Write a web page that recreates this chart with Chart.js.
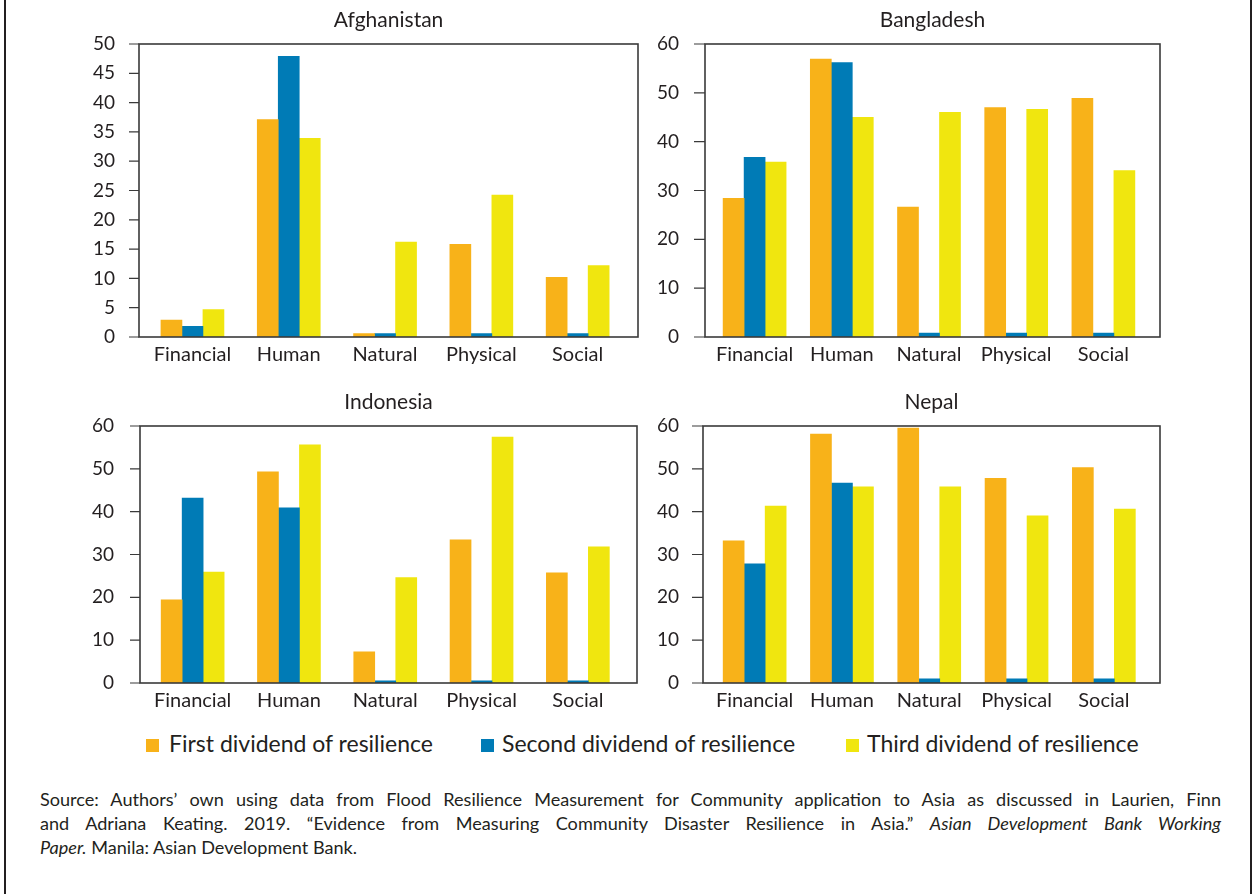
<!DOCTYPE html>
<html>
<head>
<meta charset="utf-8">
<script src="https://cdn.jsdelivr.net/npm/chart.js@4.4.1/dist/chart.umd.min.js"></script>
<style>
  html, body { margin: 0; padding: 0; background: #fff; }
  #page { position: relative; width: 1254px; height: 894px; overflow: hidden;
          font-family: Lato, "Open Sans", sans-serif; color: #231f20; background: #fff; }
  .rule { position: absolute; top: 0; bottom: 0; width: 2px; background: #231f20; }
  canvas.panel { position: absolute; }
  .swatch { position: absolute; width: 13px; height: 13px; }
  .legend-text { position: absolute; font-size: 23px; line-height: 23px; white-space: nowrap; }
  .source { position: absolute; left: 40px; width: 1181px; top: 787px; font-size: 18.1px; line-height: 24px; }
  .source div { text-align: justify; text-align-last: justify; white-space: nowrap; }
  .source div.last { text-align-last: left; }
</style>
</head>
<body>
<div id="page">
  <div class="rule" style="left:4px"></div>
  <div class="rule" style="left:1250px"></div>
  <canvas id="afghanistan" class="panel"></canvas>
  <canvas id="bangladesh" class="panel"></canvas>
  <canvas id="indonesia" class="panel"></canvas>
  <canvas id="nepal" class="panel"></canvas>
  <div id="legend"></div>
  <div class="source">
    <div>Source: Authors’ own using data from Flood Resilience Measurement for Community application to Asia as discussed in Laurien, Finn</div>
    <div>and Adriana Keating. 2019. “Evidence from Measuring Community Disaster Resilience in Asia.” <i>Asian Development Bank Working</i></div>
    <div class="last"><i>Paper.</i> Manila: Asian Development Bank.</div>
  </div>
</div>
<script>
// Capital categories shared by every panel
const categories = ['Financial', 'Human', 'Natural', 'Physical', 'Social'];

// Series names and colours
const seriesNames = ['First dividend of resilience', 'Second dividend of resilience', 'Third dividend of resilience'];
const seriesColors = ['#f8b219', '#007bb6', '#f0e60f'];

// Afghanistan
const afghanistanFirst  = [2.9, 37.1, 0.6, 15.8, 10.2];
const afghanistanSecond = [1.8, 47.9, 0.6, 0.6, 0.6];
const afghanistanThird  = [4.7, 33.9, 16.2, 24.2, 12.2];
const afghanistanAxis   = { max: 50, step: 5 };

// Bangladesh
const bangladeshFirst  = [28.4, 56.9, 26.6, 47.0, 48.9];
const bangladeshSecond = [36.8, 56.2, 0.8, 0.8, 0.8];
const bangladeshThird  = [35.8, 45.0, 46.0, 46.6, 34.1];
const bangladeshAxis   = { max: 60, step: 10 };

// Indonesia
const indonesiaFirst  = [19.4, 49.3, 7.3, 33.4, 25.7];
const indonesiaSecond = [43.2, 40.9, 0.5, 0.5, 0.5];
const indonesiaThird  = [25.9, 55.6, 24.6, 57.4, 31.8];
const indonesiaAxis   = { max: 60, step: 10 };

// Nepal
const nepalFirst  = [33.2, 58.1, 59.5, 47.8, 50.3];
const nepalSecond = [27.8, 46.7, 1.0, 1.0, 1.0];
const nepalThird  = [41.3, 45.8, 45.8, 39.0, 40.6];
const nepalAxis   = { max: 60, step: 10 };

const INK = '#231f20';
const FRAME = '#3a3a3a';
const FONT = 'Lato, "Open Sans", sans-serif';

// Draws the boxed plot frame, the outward y tick marks and the panel title
const panelFrame = {
  id: 'panelFrame',
  afterDatasetsDraw(chart, args, opts) {
    const { ctx, chartArea, scales } = chart;
    const L = chartArea.left - opts.extLeft;
    const R = chartArea.right + opts.extRight;
    const T = chartArea.top, B = chartArea.bottom;
    ctx.save();
    ctx.strokeStyle = FRAME;
    ctx.lineWidth = 1.6;
    ctx.strokeRect(L, T, R - L, B - T);
    ctx.lineWidth = 1.2;
    ctx.beginPath();
    scales.y.ticks.forEach(t => {
      const py = scales.y.getPixelForValue(t.value);
      ctx.moveTo(L - opts.tickLen, py);
      ctx.lineTo(L, py);
    });
    ctx.stroke();
    ctx.fillStyle = INK;
    ctx.font = '21px ' + FONT;
    ctx.textAlign = 'center';
    ctx.textBaseline = 'alphabetic';
    ctx.fillText(opts.title, (L + R) / 2, T - opts.titleGap);
    ctx.restore();
  }
};

function makePanel(id, title, values, axis, g) {
  const canvas = document.getElementById(id);
  canvas.width = g.w; canvas.height = g.h;
  canvas.style.left = g.x + 'px'; canvas.style.top = g.y + 'px';
  canvas.style.width = g.w + 'px'; canvas.style.height = g.h + 'px';
  const plotLeft = g.domainL - g.x;
  const plotRight = g.domainR - g.x;
  const plotTop = g.frameT - g.y;
  const plotBottom = g.frameB - g.y;
  return new Chart(canvas, {
    type: 'bar',
    data: {
      labels: categories,
      datasets: values.map((v, i) => ({
        label: seriesNames[i], data: v, backgroundColor: seriesColors[i],
        borderWidth: 0, barThickness: 21
      }))
    },
    options: {
      responsive: false, animation: false, devicePixelRatio: 1,
      layout: { padding: { left: 0, right: g.w - plotRight, top: plotTop, bottom: 0 } },
      plugins: {
        legend: { display: false }, tooltip: { enabled: false }, title: { display: false },
        panelFrame: { title, extLeft: g.domainL - g.frameL, extRight: g.frameR - g.domainR,
                      tickLen: g.tickLen, titleGap: 17 }
      },
      scales: {
        x: {
          grid: { display: false }, border: { display: false },
          ticks: { color: INK, font: { family: FONT, size: 20 }, padding: -2, maxRotation: 0, autoSkip: false },
          afterFit(s) { s.height = g.h - plotBottom; }
        },
        y: {
          min: 0, max: axis.max,
          grid: { display: false }, border: { display: false },
          ticks: { stepSize: axis.step, color: INK, font: { family: FONT, size: 19 },
                   padding: g.domainL - g.labelR },
          afterFit(s) { s.width = plotLeft; }
        }
      }
    },
    plugins: [panelFrame]
  });
}

makePanel('afghanistan', 'Afghanistan', [afghanistanFirst, afghanistanSecond, afghanistanThird], afghanistanAxis,
  { x: 40, y: 0, w: 605, h: 380, frameL: 139, frameR: 638, frameT: 44, frameB: 337,
    domainL: 144.3, domainR: 625.8, labelR: 123, tickLen: 10 });
makePanel('bangladesh', 'Bangladesh', [bangladeshFirst, bangladeshSecond, bangladeshThird], bangladeshAxis,
  { x: 645, y: 0, w: 555, h: 380, frameL: 705, frameR: 1160, frameT: 44, frameB: 337,
    domainL: 711, domainR: 1147, labelR: 687, tickLen: 11 });
makePanel('indonesia', 'Indonesia', [indonesiaFirst, indonesiaSecond, indonesiaThird], indonesiaAxis,
  { x: 40, y: 380, w: 605, h: 342, frameL: 140, frameR: 637, frameT: 426, frameB: 683,
    domainL: 144.5, domainR: 626, labelR: 122, tickLen: 10 });
makePanel('nepal', 'Nepal', [nepalFirst, nepalSecond, nepalThird], nepalAxis,
  { x: 645, y: 380, w: 555, h: 342, frameL: 703, frameR: 1160, frameT: 426, frameB: 683,
    domainL: 711, domainR: 1147.5, labelR: 687, tickLen: 11 });

// Shared legend below the panels
const legendSpots = [{ sq: 146, tx: 169 }, { sq: 481, tx: 502 }, { sq: 846, tx: 867 }];
const legend = document.getElementById('legend');
seriesNames.forEach((name, i) => {
  const sw = document.createElement('div');
  sw.className = 'swatch';
  sw.style.left = legendSpots[i].sq + 'px'; sw.style.top = '739px';
  sw.style.background = seriesColors[i];
  legend.appendChild(sw);
  const tx = document.createElement('div');
  tx.className = 'legend-text';
  tx.style.left = legendSpots[i].tx + 'px'; tx.style.top = '731.6px';
  tx.textContent = name;
  legend.appendChild(tx);
});
</script>
</body>
</html>
